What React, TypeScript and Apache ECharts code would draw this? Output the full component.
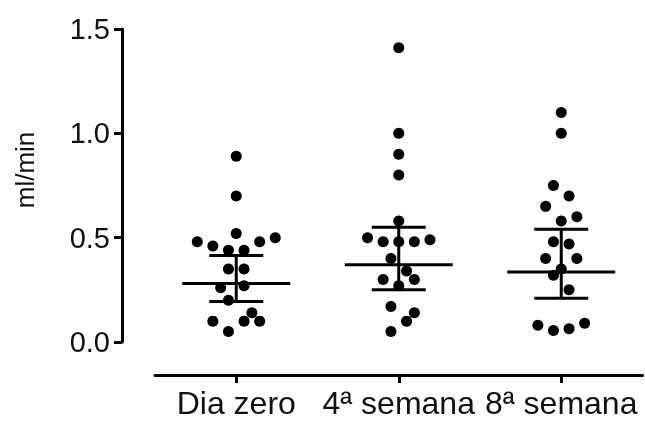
import { useEffect, useRef } from "react";
import * as echarts from "echarts";

const categories = ["Dia zero", "4ª semana", "8ª semana"];
const yMin = 0;
const yMax = 1.5;
const yStep = 0.5;

// Individual measurements (ml/min) and their beeswarm column (in dot steps)
const dayZeroValues = [0.89, 0.7, 0.52, 0.48, 0.5, 0.46, 0.48, 0.44, 0.44, 0.35, 0.35, 0.26, 0.27, 0.2, 0.14, 0.1, 0.1, 0.1, 0.05];
const dayZeroColumns = [0, 0, 0, -5, 5, -3, 3, -1, 1, -1, 1, -2, 1, -1, 2, -3, 1, 3, -1];

const week4Values = [1.41, 1.0, 0.9, 0.8, 0.58, 0.5, 0.48, 0.48, 0.48, 0.49, 0.4, 0.34, 0.3, 0.3, 0.27, 0.17, 0.14, 0.1, 0.05];
const week4Columns = [0, 0, 0, 0, 0, -4, -2, 0, 2, 4, -1, 1, -2, 2, 0, -1, 2, 1, -1];

const week8Values = [1.1, 1.0, 0.75, 0.7, 0.65, 0.58, 0.6, 0.48, 0.47, 0.4, 0.4, 0.35, 0.32, 0.25, 0.08, 0.055, 0.063, 0.09];
const week8Columns = [0, 0, -1, 1, -2, 0, 2, -1, 1, -2, 2, 0, -1, 1, -3, -1, 1, 3];

// Summary line and bars
const centerValues = [0.28, 0.37, 0.335];
const lowerValues = [0.194, 0.25, 0.21];
const upperValues = [0.415, 0.55, 0.54];

const COLUMN_STEP = 0.048; // category units per beeswarm column
const FONT = '"Liberation Sans", Arial, sans-serif';
const INK = "#111";

export default function App() {
  const ref = useRef<HTMLDivElement>(null);

  useEffect(() => {
    if (!ref.current) return;
    const chart = echarts.init(ref.current, null, { renderer: "svg" });

    const groups: [number[], number[]][] = [
      [dayZeroValues, dayZeroColumns],
      [week4Values, week4Columns],
      [week8Values, week8Columns],
    ];
    const points: number[][] = [];
    groups.forEach(([vals, cols], gi) => {
      vals.forEach((v, k) => points.push([gi + cols[k] * COLUMN_STEP, v]));
    });

    const summary = categories.map((_, i) => [i, centerValues[i], lowerValues[i], upperValues[i]]);

    chart.setOption({
      animation: false,
      grid: { left: 155, right: 2.5, top: 29, bottom: 79, containLabel: false },
      xAxis: [
        {
          type: "category",
          data: categories,
          position: "bottom",
          offset: 33,
          axisLine: { show: true, onZero: false, lineStyle: { color: "#000", width: 3 } },
          axisTick: { show: true, alignWithLabel: true, length: 8, lineStyle: { color: "#000", width: 3 } },
          axisLabel: { interval: 0, fontSize: 32, color: INK, fontFamily: FONT, margin: 12 },
          splitLine: { show: false },
        },
        { type: "value", min: -0.5, max: 2.5, show: false, axisLine: { onZero: false } },
      ],
      yAxis: {
        type: "value",
        min: yMin,
        max: yMax,
        interval: yStep,
        offset: 33,
        axisLine: { show: true, onZero: false, lineStyle: { color: "#000", width: 3 } },
        axisTick: { show: true, length: 8, lineStyle: { color: "#000", width: 3 } },
        axisLabel: {
          formatter: (v: number) => v.toFixed(1),
          fontSize: 29,
          color: INK,
          fontFamily: FONT,
          margin: 12,
        },
        splitLine: { show: false },
        name: "ml/min",
        nameLocation: "middle",
        nameGap: 84,
        nameRotate: 90,
        nameTextStyle: { fontSize: 26, color: INK, fontFamily: FONT, padding: [0, 0, 0, 31] },
      },
      series: [
        {
          type: "scatter",
          xAxisIndex: 1,
          symbol: "circle",
          symbolSize: 11,
          itemStyle: { color: "#000", opacity: 1 },
          data: points,
          z: 2,
        },
        {
          type: "custom",
          xAxisIndex: 1,
          encode: { x: 0, y: [1, 2, 3] },
          data: summary,
          z: 3,
          renderItem: (_params: any, api: any) => {
            const x = api.value(0);
            const pm = api.coord([x, api.value(1)]);
            const pl = api.coord([x, api.value(2)]);
            const ph = api.coord([x, api.value(3)]);
            const style = { stroke: "#000", lineWidth: 3, fill: "none" };
            return {
              type: "group",
              children: [
                { type: "line", shape: { x1: pm[0] - 54, y1: pm[1], x2: pm[0] + 54, y2: pm[1] }, style },
                { type: "line", shape: { x1: pl[0], y1: pl[1], x2: ph[0], y2: ph[1] }, style },
                { type: "line", shape: { x1: ph[0] - 27, y1: ph[1], x2: ph[0] + 27, y2: ph[1] }, style },
                { type: "line", shape: { x1: pl[0] - 27, y1: pl[1], x2: pl[0] + 27, y2: pl[1] }, style },
              ],
            };
          },
        },
      ],
    });

    return () => chart.dispose();
  }, []);

  return <div ref={ref} style={{ position: "fixed", left: 0, top: 0, width: 645, height: 421 }} />;
}
